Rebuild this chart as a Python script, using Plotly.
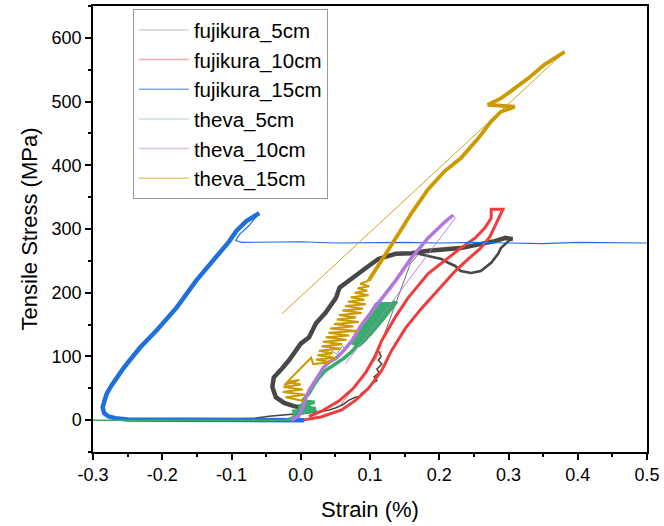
import plotly.graph_objects as go

# ---------------- data (strain %, tensile stress MPa) ----------------
SERIES = ["fujikura_5cm", "fujikura_10cm", "fujikura_15cm", "theva_5cm", "theva_10cm", "theva_15cm"]
COLORS = ["#474747", "#f03c3c", "#1f6fdd", "#37ad6b", "#b177de", "#cc9900"]
LEGEND_COLORS = ["#d2d2d2", "#f7a8a8", "#82aaea", "#c5e8d4", "#dcc0f0", "#e6cb80"]

# fujikura_5cm
f5_low_strain = [-0.103, -0.067, -0.046, -0.017, 0.002, 0.026, 0.041, 0.050, 0.062, 0.069, 0.079, 0.085,
                 0.088, 0.095, 0.100, 0.104, 0.110, 0.106, 0.113, 0.110, 0.117, 0.112, 0.116, 0.112]
f5_low_stress = [1.6, 3, 6, 9, 11, 13, 16, 19, 25, 31, 36, 37, 42, 48, 54, 58, 62, 68, 74, 80, 88, 94, 100, 109]
f5_jump_strain = [0.112, 0.158, 0.170]
f5_jump_stress = [109, 245, 261]
f5_right_strain = [0.170, 0.184, 0.203, 0.213, 0.223, 0.231, 0.246, 0.260, 0.275, 0.285, 0.289, 0.302, 0.306]
f5_right_stress = [261, 258, 253, 247, 242, 234, 231, 234, 247, 261, 270, 283, 284]
f5_loop_strain = [0.306, 0.296, 0.280, 0.231, 0.184, 0.160, 0.137, 0.112, 0.098, 0.084, 0.069, 0.056, 0.051,
                  0.036, 0.022, 0.012, 0.000, -0.007, -0.017, -0.027, -0.039, -0.041, -0.036, -0.024, -0.010, 0.005]
f5_loop_stress = [284, 286, 281, 270, 266, 262, 261, 253, 242, 230, 219, 208, 192,
                  169, 152, 130, 120, 109, 94, 81, 67, 52, 36, 27, 22, 19]

# fujikura_10cm
f10_strain = [0.002, 0.029, 0.059, 0.079, 0.098, 0.117, 0.131, 0.151, 0.174, 0.199, 0.223, 0.242, 0.259, 0.273,
              0.282, 0.292, 0.275, 0.275, 0.266, 0.252, 0.231, 0.213, 0.184, 0.155, 0.137, 0.117, 0.108, 0.094,
              0.076, 0.055, 0.030, 0.012]
f10_stress = [0, 5, 16, 31, 50, 78, 109, 144, 175, 206, 234, 253, 269, 287.5,
              309, 331, 331, 317, 302, 286, 270, 255, 230, 192, 162.5, 125, 102, 75,
              50, 30, 14, 6]
f10_thin_strain = [0.055, 0.117]
f10_thin_stress = [20, 109]

# fujikura_15cm
f15_strain = [0.005, -0.05, -0.12, -0.20, -0.25, -0.268, -0.278, -0.284, -0.286, -0.283, -0.280, -0.273, -0.266,
              -0.257, -0.247, -0.232, -0.208, -0.179, -0.151, -0.122, -0.103, -0.093, -0.079, -0.060]
f15_stress = [0, 0, 0, 0, 1, 3, 6, 11, 20, 32, 42, 55, 67, 80, 94, 114, 141, 177, 219, 255, 281, 297, 312, 325]
f15_flat_strain = [-0.060, -0.075, -0.088, -0.094, -0.085, -0.05, 0.0, 0.05, 0.1, 0.15, 0.2, 0.25, 0.3,
                   0.35, 0.4, 0.45, 0.5]
f15_flat_stress = [325, 305, 292, 282, 279, 279, 280, 278, 279, 279, 278, 279, 278, 277, 279, 278, 278]

# theva_5cm
t5_zero_strain = [-0.300, -0.150, -0.020]
t5_zero_stress = [0, 0, 0]
t5_strain = [-0.020, -0.007, -0.010, 0.022, -0.003, 0.020, 0.002, 0.012, 0.019, 0.026, 0.036, 0.051, 0.062,
             0.072, 0.079, 0.088, 0.098, 0.112, 0.105, 0.125, 0.112, 0.135, 0.137, 0.120, 0.100, 0.088]
t5_stress = [0, 5, 14, 18, 22, 28, 30, 42, 55, 66, 78, 89, 97, 106, 114, 125, 137, 184, 150, 184, 165, 185,
             184, 160, 134, 125]
t5_blob_strain = [0.072, 0.108, 0.137, 0.131, 0.095, 0.085, 0.072]
t5_blob_stress = [120, 184, 185, 177, 125, 115, 120]
t5_foot_strain = [-0.012, 0.024, 0.004, -0.012]
t5_foot_stress = [6, 14, 30, 6]
t5_thin_strain = [0.137, 0.110, 0.096, 0.088, 0.080, 0.075, 0.066, 0.060, 0.052, 0.045, 0.038, 0.030]
t5_thin_stress = [184, 150, 136, 130, 120, 124, 111, 116, 104, 108, 96, 90]

# theva_10cm
t10_strain = [-0.014, -0.003, 0.003, 0.007, 0.012, 0.019, 0.026, 0.033, 0.041, 0.051, 0.062, 0.074, 0.088,
              0.112, 0.137, 0.160, 0.184, 0.206, 0.220]
t10_stress = [0, 6, 19, 34, 47, 59, 73, 83, 91, 97, 109, 125, 150, 183, 219, 255, 286, 309, 322]
t10_thin_strain = [0.220, 0.223, 0.065]
t10_thin_stress = [322, 317, 89]

# theva_15cm : noisy start (thin spikes) then smooth loading branch
t15_noisy_strain = [0.004, -0.022, 0.006, -0.026, 0.003, -0.025, 0.000, -0.020, -0.002, -0.024, 0.015,
                    0.018, 0.044, 0.022, 0.050, 0.024, 0.046, 0.026, 0.058, 0.030, 0.060, 0.032, 0.066, 0.036,
                    0.070, 0.040, 0.082, 0.042, 0.076, 0.048, 0.084, 0.052, 0.080, 0.055, 0.088, 0.060, 0.090,
                    0.064, 0.094, 0.068, 0.092, 0.072, 0.098, 0.078, 0.096, 0.082, 0.099, 0.086, 0.098]
t15_noisy_stress = [30, 36, 40, 44, 48, 52, 56, 60, 63, 55, 98,
                    88, 91, 95, 98, 102, 105, 109, 112, 116, 119, 123, 126, 130,
                    133, 137, 140, 144, 147, 151, 154, 158, 161, 165, 168, 172, 175,
                    179, 182, 186, 189, 193, 196, 200, 203, 207, 210, 214, 219]
t15_strain = [0.098, 0.112, 0.131, 0.141, 0.160, 0.184, 0.208, 0.231, 0.256, 0.275, 0.289, 0.309, 0.270,
              0.289, 0.303, 0.328, 0.352, 0.381]
t15_stress = [219, 242, 273, 292, 325, 362.5, 391, 411, 442, 469, 484, 492, 495, 505, 516, 536, 558, 578]
t15_thin_strain = [0.381, -0.027]
t15_thin_stress = [578, 167]

X_TICKS = [-0.3, -0.2, -0.1, 0.0, 0.1, 0.2, 0.3, 0.4, 0.5]
X_TICK_LABELS = ["-0.3", "-0.2", "-0.1", "0.0", "0.1", "0.2", "0.3", "0.4", "0.5"]
Y_TICKS = [0, 100, 200, 300, 400, 500, 600]
Y_TICK_LABELS = ["0", "100", "200", "300", "400", "500", "600"]

# ---------------- figure ----------------
fig = go.Figure()


def add(x, y, ci, w, fill=None):
    kw = {}
    if fill:
        kw = dict(fill="toself", fillcolor=COLORS[ci])
    fig.add_trace(go.Scatter(x=x, y=y, mode="lines", line=dict(color=COLORS[ci], width=w),
                             showlegend=False, hoverinfo="skip", **kw))


# fujikura_5cm
add(f5_low_strain, f5_low_stress, 0, 1.6)
add(f5_jump_strain, f5_jump_stress, 0, 0.8)
add(f5_right_strain, f5_right_stress, 0, 2.6)
add(f5_loop_strain, f5_loop_stress, 0, 4.5)
# fujikura_10cm
add(f10_strain, f10_stress, 1, 3)
add(f10_thin_strain, f10_thin_stress, 1, 0.8)
# fujikura_15cm
add(f15_strain, f15_stress, 2, 4.5)
add(f15_flat_strain, f15_flat_stress, 2, 1.2)
# theva_5cm
add(t5_zero_strain, t5_zero_stress, 3, 1.5)
add(t5_strain, t5_stress, 3, 3.5)
add(t5_blob_strain, t5_blob_stress, 3, 1, fill=True)
add(t5_foot_strain, t5_foot_stress, 3, 1, fill=True)
add(t5_thin_strain, t5_thin_stress, 3, 0.9)
# theva_10cm
add(t10_strain, t10_stress, 4, 3.5)
add(t10_thin_strain, t10_thin_stress, 4, 0.9)
# theva_15cm
add(t15_noisy_strain, t15_noisy_stress, 5, 2)
add(t15_strain, t15_stress, 5, 3.8)
add(t15_thin_strain, t15_thin_stress, 5, 0.9)

# legend entries
for name, lc in zip(SERIES, LEGEND_COLORS):
    fig.add_trace(go.Scatter(x=[None], y=[None], mode="lines", name=name,
                             line=dict(color=lc, width=1.5)))

axis_common = dict(showline=True, linecolor="black", linewidth=1.5, mirror=True, showgrid=False,
                   zeroline=False, ticks="outside", ticklen=6, tickwidth=1.5, tickcolor="black",
                   tickfont=dict(size=18, color="black"))

fig.update_layout(
    width=664, height=526,
    margin=dict(l=93, r=14, t=4, b=74),
    plot_bgcolor="white", paper_bgcolor="white",
    font=dict(family="Liberation Sans, Arial, sans-serif", color="black"),
    xaxis=dict(range=[-0.3, 0.5], tickmode="array", tickvals=X_TICKS, ticktext=X_TICK_LABELS,
               minor=dict(tickmode="linear", tick0=-0.3, dtick=0.05, ticks="outside", ticklen=3,
                          tickwidth=1.5, tickcolor="black"),
               title=dict(text="Strain (%)", font=dict(size=22), standoff=17), **axis_common),
    yaxis=dict(range=[-50, 650], tickmode="array", tickvals=Y_TICKS, ticktext=Y_TICK_LABELS,
               minor=dict(tickmode="linear", tick0=0, dtick=50, ticks="outside", ticklen=3,
                          tickwidth=1.5, tickcolor="black"),
               title=dict(text="Tensile Stress (MPa)", font=dict(size=22), standoff=8), **axis_common),
    legend=dict(x=0.072, y=0.993, xanchor="left", yanchor="top", bgcolor="white",
                bordercolor="#9a9a9a", borderwidth=1, font=dict(size=20.5), tracegroupgap=0,
                itemwidth=50),
)

fig.write_html("out.html")
